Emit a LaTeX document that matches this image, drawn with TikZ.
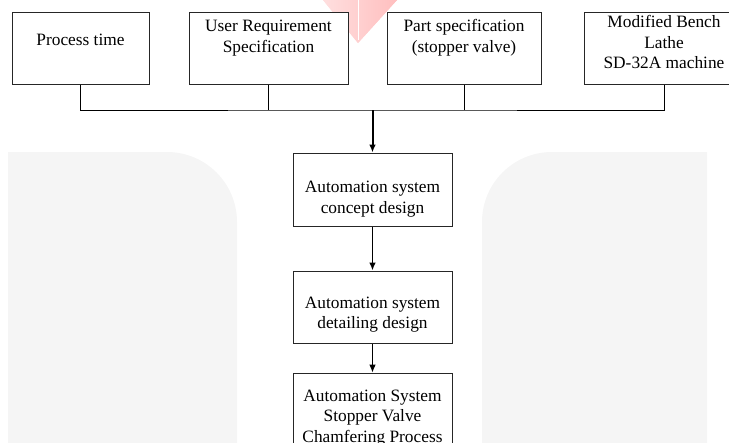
\documentclass[tikz,border=0pt]{standalone}
\usepackage{fontspec}
\setmainfont{Liberation Serif}
\usetikzlibrary{arrows.meta}

\begin{document}
\begin{tikzpicture}[x=0.75pt,y=-0.75pt,
    box/.style={draw=black!85,fill=white,line width=0.75pt,minimum height=54pt},
    txt/.style={align=center,inner sep=0pt,font=\fontsize{13}{15.5}\selectfont},
    link/.style={line width=0.75pt},
    flow/.style={-{Latex[length=6pt,width=5pt]}}]
  \useasboundingbox (0,0) rectangle (729,443);

  % watermark
  \fill[black!4] (8,470) -- (8,152) -- (167,152)
    .. controls (205.7,152) and (237,183.3) .. (237,222) -- (237,470) -- cycle;
  \fill[black!4] (707,470) -- (707,152) -- (552,152)
    .. controls (513.3,152) and (482,183.3) .. (482,222) -- (482,470) -- cycle;
  \shade[left color=red!25,right color=red!50] (323,0) -- (397,0) -- (358,43) -- cycle;
  \shade[top color=white,bottom color=white,opacity=0.5] (323,0) -- (397,0) -- (358,43) -- cycle;
  \draw[white,line width=0.6pt] (358,0) -- (358,40);

  % inputs
  \node[box,minimum width=102.75pt](b1) at (80.5,48){};
  \node[box,minimum width=119.25pt](b2) at (268.5,48){};
  \node[box,minimum width=115.5pt](b3) at (464,48){};
  \node[box,minimum width=120pt](b4) at (664,48){};
  \node[txt](t1) at (80.5,40){Process time};
  \node[txt](t2) at (268.5,38){User Requirement\\Specification};
  \node[txt](t3) at (464,38){Part specification\\(stopper valve)};
  \node[txt](t4) at (664,42){Modified Bench\\Lathe\\SD-32A machine};

  % design steps
  \node[box,minimum width=119.25pt,minimum height=54.75pt](b5) at (372.5,189.5){};
  \node[box,minimum width=119.25pt](b6) at (372.5,307){};
  \node[box,minimum width=119.25pt,minimum height=54.75pt](b7) at (372.5,409.5){};
  \node[txt](t5) at (372.5,199){Automation system\\concept design};
  \node[txt](t6) at (372.5,314.5){Automation system\\detailing design};
  \node[txt](t7) at (372.5,418){Automation System\\Stopper Valve\\Chamfering Process};

  \coordinate(bus) at (372.5,110);
  \draw[link](b1.south)|-(bus)-|(b4.south);
  \draw[link](b2.south)--(b2.south |- bus);
  \draw[link](b3.south)--(b3.south |- bus);
  \draw[flow,line width=1.5pt](bus)--(b5.north);
  \draw[flow,line width=1.1pt](b5.south)--(b6.north);
  \draw[flow,line width=0.75pt](b6.south)--(b7.north);

\end{tikzpicture}
\end{document}
